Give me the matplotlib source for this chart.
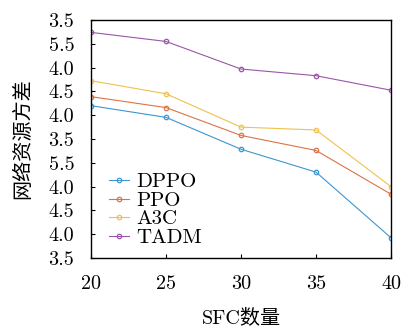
import numpy as np
import matplotlib
matplotlib.use('Agg')
import matplotlib.pyplot as plt

plt.rcParams['font.family'] = ['cmr10', 'Noto Sans CJK SC', 'DejaVu Sans']
plt.rcParams['axes.unicode_minus'] = False

# Data (y in tick-position units)
sfc = [20, 25, 30, 35, 40]
dppo = [6.40, 5.91, 4.57, 3.61, 0.85]
ppo = [6.78, 6.32, 5.15, 4.52, 2.68]
a3c = [7.45, 6.90, 5.50, 5.38, 3.00]
tadm = [9.48, 9.10, 7.94, 7.66, 7.05]

x_ticks = [20, 25, 30, 35, 40]
y_tick_labels = ['3.5', '4.0', '4.5', '4.0', '5.5', '3.5',
                 '4.0', '4.5', '4.0', '5.5', '3.5']

series = [
    ('DPPO', dppo, '#3d96cf'),
    ('PPO', ppo, '#de7245'),
    ('A3C', a3c, '#efc14f'),
    ('TADM', tadm, '#9a56a8'),
]

fig = plt.figure(figsize=(4.03, 3.27), dpi=100)
ax = fig.add_axes([0.2258, 0.211, 0.7444, 0.7278])

for name, vals, color in series:
    ax.plot(sfc, vals, color=color, linewidth=0.8, marker='o', markersize=3.2,
            markerfacecolor='none', markeredgewidth=0.9, label=name)

ax.set_xlim(20, 40)
ax.set_ylim(0, 10)
ax.set_xticks(x_ticks)
ax.set_yticks(np.arange(11))
ax.set_yticklabels(y_tick_labels)
ax.tick_params(direction='in', length=3, width=0.8, labelsize=14.5, pad=12)
for s in ax.spines.values():
    s.set_linewidth(1.0)

ax.set_xlabel('SFC数量', fontsize=14.5, labelpad=11)
ax.set_ylabel('网络资源方差', fontsize=14.5, labelpad=12)

ax.legend(loc='lower left', bbox_to_anchor=(0.01, -0.015), frameon=False,
          fontsize=15, handlelength=1.0, handletextpad=0.35, labelspacing=0.0,
          borderpad=0.2)

fig.savefig('out.png', dpi=100)
